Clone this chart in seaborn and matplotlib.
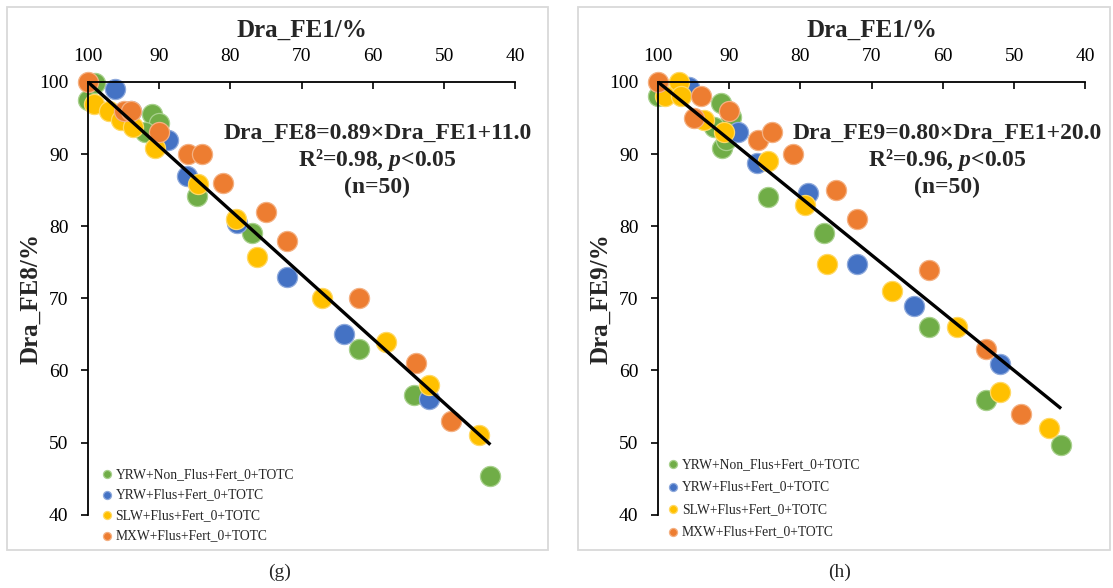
import numpy as np
import pandas as pd
import matplotlib
matplotlib.use("Agg")
import matplotlib.pyplot as plt
from matplotlib.patches import Rectangle
import seaborn as sns

# Groups and their Excel-style colours
groups = [
    "YRW+Non_Flus+Fert_0+TOTC",
    "YRW+Flus+Fert_0+TOTC",
    "SLW+Flus+Fert_0+TOTC",
    "MXW+Flus+Fert_0+TOTC",
]
colors = ["#70AD47", "#4472C4", "#FFC000", "#ED7D31"]
edges = ["#A9D18E", "#8FAADC", "#FFD966", "#F4B183"]

x_ticks = [100, 90, 80, 70, 60, 50, 40]
y_ticks = [40, 50, 60, 70, 80, 90, 100]

# ---- panel (g): Dra_FE8 vs Dra_FE1 ----
g_nonflus_fe1 = [100, 99, 91, 90, 92, 84.7, 77, 62, 54.2, 43.5]
g_nonflus_fe8 = [97.5, 99.8, 95.5, 94.3, 93, 84.2, 79, 63, 56.6, 45.4]
g_yrw_fe1 = [96.2, 94, 88.8, 86.1, 79.1, 72.1, 64.1, 52.1]
g_yrw_fe8 = [99, 96, 92, 87, 80.4, 73, 65.1, 56.1]
g_slw_fe1 = [99.1, 97, 95.4, 93.7, 90.6, 84.5, 79.2, 76.3, 67.1, 58.1, 52.1, 45.1]
g_slw_fe8 = [97, 96, 94.7, 93.8, 90.9, 85.9, 81, 75.8, 70, 64, 58, 51]
g_mxw_fe1 = [100, 95, 94, 90, 86, 84, 81, 75, 72, 62, 54, 49]
g_mxw_fe8 = [100, 96, 96, 93, 90, 90, 86, 82, 78, 70, 61, 53]
g_slope, g_intercept, g_r2 = 0.89, 11.0, 0.98

# ---- panel (h): Dra_FE9 vs Dra_FE1 ----
h_nonflus_fe1 = [100, 91.2, 89.8, 92.1, 91, 90.5, 84.6, 76.7, 62, 54, 43.4]
h_nonflus_fe9 = [98, 97.1, 95.2, 93.8, 90.9, 92, 84, 79, 66, 55.9, 49.7]
h_yrw_fe1 = [95.7, 88.8, 86.1, 79, 72, 64, 52]
h_yrw_fe9 = [99.3, 93, 88.8, 84.6, 74.8, 68.9, 60.9]
h_slw_fe1 = [97, 99, 96.8, 93.6, 90.7, 84.5, 79.3, 76.2, 67.1, 58, 52, 45.1]
h_slw_fe9 = [100, 98, 98, 94.8, 93, 89, 83, 74.8, 71, 66, 57, 52]
h_mxw_fe1 = [100, 94, 90, 95, 86, 84, 81, 75, 72, 62, 54, 49]
h_mxw_fe9 = [100, 98, 96, 95, 92, 93, 90, 85, 81, 74, 63, 54]
h_slope, h_intercept, h_r2 = 0.80, 20.0, 0.96

n_samples = 50

sns.set_style("white")
plt.rcParams["font.family"] = ["Liberation Serif", "DejaVu Serif"]
plt.rcParams["mathtext.fontset"] = "custom"
plt.rcParams["mathtext.it"] = "Liberation Serif:italic:bold"
plt.rcParams["mathtext.rm"] = "Liberation Serif:bold"

W, H = 1113, 588
fig = plt.figure(figsize=(W / 100, H / 100), dpi=100)


def draw_panel(ax, fe1_sets, fe_sets, slope, intercept, r2, name, legend_xy, legend_spacing):
    frames = [pd.DataFrame({"fe1": xs, "fe": ys, "group": g})
              for g, xs, ys in zip(groups, fe1_sets, fe_sets)]
    df = pd.concat(frames, ignore_index=True)

    handles = []
    for g, col, edge in zip(groups, colors, edges):
        sub = df[df["group"] == g]
        sns.scatterplot(data=sub, x="fe1", y="fe", color=col, edgecolor=edge,
                        linewidth=0.9, s=210, ax=ax, legend=False, zorder=2)
        coll = ax.collections[-1]
        coll.set_clip_on(False)
        handles.append(coll)

    # least-squares line reported in the annotation
    xfit = np.array([df["fe1"].min(), df["fe1"].max()])
    ax.plot(xfit, slope * xfit + intercept, color="black", lw=2.4,
            zorder=3, clip_on=False, solid_capstyle="butt")

    ax.set_xlim(100, 40)
    ax.set_ylim(40, 100)
    ax.set_xticks(x_ticks)
    ax.set_yticks(y_ticks)
    ax.xaxis.tick_top()
    ax.xaxis.set_label_position("top")
    for side in ("right", "bottom"):
        ax.spines[side].set_visible(False)
    for side in ("left", "top"):
        ax.spines[side].set_color("black")
        ax.spines[side].set_linewidth(1.3)
    ax.tick_params(axis="x", which="major", top=True, bottom=False, labeltop=True,
                   labelbottom=False, direction="in", length=5, width=1.2,
                   labelsize=14, pad=12, colors="black")
    ax.tick_params(axis="y", which="major", left=True, right=False, direction="out",
                   length=5, width=1.2, labelsize=14, pad=9, colors="black")
    ax.set_xlabel("Dra_FE1/%", fontsize=18, fontweight="bold", labelpad=8)
    ax.set_ylabel(f"Dra_{name}/%", fontsize=18, fontweight="bold", labelpad=-2)

    ax.text(0.677, 0.882, f"Dra_{name}={slope:.2f}×Dra_FE1+{intercept:.1f}",
            transform=ax.transAxes, ha="center", va="center", fontsize=17, fontweight="bold")
    ax.text(0.677, 0.820, f"R²={r2:.2f}, $p$<0.05",
            transform=ax.transAxes, ha="center", va="center", fontsize=17, fontweight="bold")
    ax.text(0.677, 0.757, f"(n={n_samples})",
            transform=ax.transAxes, ha="center", va="center", fontsize=17, fontweight="bold")

    ax.legend(handles, groups, loc="upper left", bbox_to_anchor=legend_xy,
              frameon=False, fontsize=9.8, markerscale=0.4, handlelength=0.8,
              handletextpad=0.25, labelspacing=legend_spacing, borderpad=0,
              borderaxespad=0)


ax_g = fig.add_axes([88 / W, 1 - 514.7 / H, 427.3 / W, 432.7 / H])
ax_h = fig.add_axes([658 / W, 1 - 514.7 / H, 427.3 / W, 432.7 / H])

draw_panel(ax_g,
           [g_nonflus_fe1, g_yrw_fe1, g_slw_fe1, g_mxw_fe1],
           [g_nonflus_fe8, g_yrw_fe8, g_slw_fe8, g_mxw_fe8],
           g_slope, g_intercept, g_r2, "FE8", (0.031, 0.108), 0.55)
draw_panel(ax_h,
           [h_nonflus_fe1, h_yrw_fe1, h_slw_fe1, h_mxw_fe1],
           [h_nonflus_fe9, h_yrw_fe9, h_slw_fe9, h_mxw_fe9],
           h_slope, h_intercept, h_r2, "FE9", (0.023, 0.131), 0.70)

# light grey frames around each panel
for x0, x1 in ((7, 548), (578, 1110)):
    fig.add_artist(Rectangle((x0 / W, 1 - 550 / H), (x1 - x0) / W, 543 / H,
                             transform=fig.transFigure, fill=False,
                             edgecolor="#D9D9D9", lw=1.3))

fig.text(280 / W, 1 - 572 / H, "(g)", ha="center", va="center", fontsize=14)
fig.text(840 / W, 1 - 572 / H, "(h)", ha="center", va="center", fontsize=14)

fig.savefig("out.png", dpi=100)
